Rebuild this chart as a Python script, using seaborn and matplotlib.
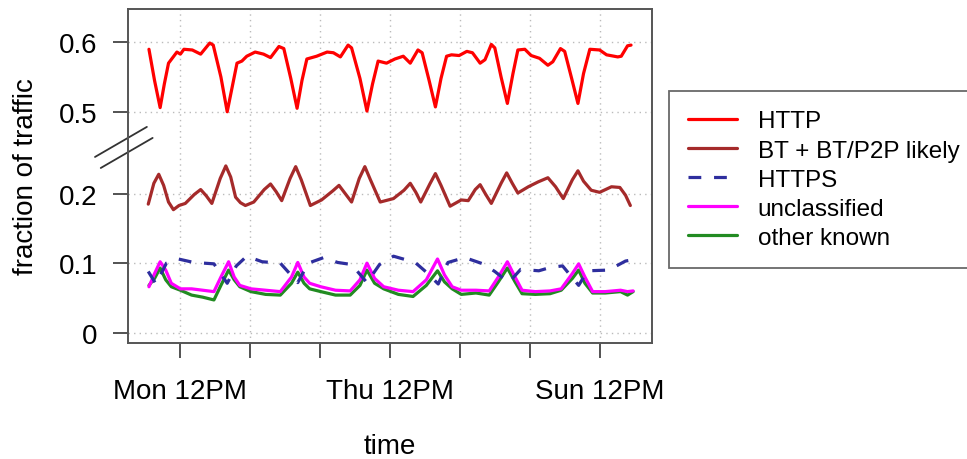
import numpy as np
import matplotlib
matplotlib.use("Agg")
import matplotlib.pyplot as plt
import seaborn as sns
from matplotlib.lines import Line2D

# time in days since Monday 00:00, values are fraction of traffic
http_t = [0.05, 0.13, 0.21, 0.27, 0.33, 0.45, 0.50, 0.55, 0.67, 0.79,
          0.92, 0.97, 1.08, 1.17, 1.24, 1.31, 1.38, 1.45, 1.57, 1.69,
          1.79, 1.91, 1.98, 2.08, 2.17, 2.24, 2.31, 2.45, 2.60, 2.69,
          2.79, 2.90, 2.95, 3.07, 3.17, 3.25, 3.33, 3.45, 3.57, 3.69,
          3.79, 3.90, 3.96, 4.06, 4.15, 4.23, 4.31, 4.38, 4.49, 4.60,
          4.68, 4.79, 4.86, 4.95, 5.00, 5.09, 5.18, 5.26, 5.33, 5.43,
          5.52, 5.64, 5.76, 5.83, 5.94, 6.00, 6.10, 6.19, 6.27, 6.36,
          6.50, 6.60, 6.76, 6.81, 6.90, 6.95]
http_v = [0.590, 0.545, 0.506, 0.540, 0.570, 0.586, 0.583, 0.590, 0.589, 0.583,
          0.599, 0.596, 0.550, 0.500, 0.535, 0.570, 0.573, 0.580, 0.586, 0.583,
          0.578, 0.594, 0.591, 0.548, 0.505, 0.545, 0.576, 0.580, 0.586, 0.585,
          0.579, 0.596, 0.592, 0.548, 0.501, 0.540, 0.573, 0.570, 0.576, 0.580,
          0.570, 0.589, 0.585, 0.545, 0.507, 0.548, 0.580, 0.582, 0.581, 0.587,
          0.585, 0.570, 0.575, 0.597, 0.592, 0.550, 0.512, 0.555, 0.589, 0.590,
          0.581, 0.577, 0.567, 0.572, 0.591, 0.587, 0.548, 0.512, 0.555, 0.590,
          0.589, 0.582, 0.579, 0.580, 0.595, 0.596]

bt_t = [0.04, 0.12, 0.19, 0.26, 0.33, 0.40, 0.48, 0.57, 0.70, 0.79,
        0.87, 0.95, 1.07, 1.15, 1.22, 1.29, 1.36, 1.43, 1.55, 1.70,
        1.79, 1.87, 1.95, 2.07, 2.15, 2.23, 2.36, 2.52, 2.68, 2.77,
        2.86, 2.95, 3.06, 3.14, 3.22, 3.36, 3.55, 3.70, 3.79, 3.87,
        3.94, 4.07, 4.15, 4.23, 4.36, 4.52, 4.62, 4.72, 4.79, 4.87,
        4.95, 5.09, 5.17, 5.25, 5.33, 5.48, 5.62, 5.76, 5.87, 5.98,
        6.11, 6.19, 6.27, 6.38, 6.50, 6.67, 6.79, 6.87, 6.94]
bt_v = [0.185, 0.215, 0.228, 0.212, 0.188, 0.177, 0.183, 0.186, 0.199, 0.206,
        0.197, 0.186, 0.222, 0.240, 0.224, 0.195, 0.187, 0.183, 0.188, 0.206,
        0.214, 0.203, 0.190, 0.222, 0.239, 0.220, 0.183, 0.191, 0.204, 0.212,
        0.200, 0.188, 0.222, 0.239, 0.220, 0.188, 0.193, 0.205, 0.215, 0.202,
        0.188, 0.214, 0.229, 0.212, 0.182, 0.191, 0.190, 0.206, 0.213, 0.199,
        0.186, 0.215, 0.230, 0.215, 0.201, 0.210, 0.217, 0.223, 0.210, 0.193,
        0.220, 0.233, 0.218, 0.205, 0.202, 0.210, 0.209, 0.198, 0.183]

https_t = [0.04, 0.15, 0.30, 0.47, 0.69, 0.98, 1.17, 1.30, 1.45, 1.67,
           1.93, 2.18, 2.33, 2.55, 2.75, 2.95, 3.17, 3.35, 3.55, 3.86,
           4.02, 4.19, 4.33, 4.57, 4.83, 5.00, 5.20, 5.37, 5.63, 5.80,
           5.97, 6.20, 6.33, 6.63, 6.87, 6.98]
https_v = [0.088, 0.070, 0.100, 0.106, 0.101, 0.099, 0.071, 0.096, 0.110, 0.102,
           0.100, 0.072, 0.100, 0.108, 0.101, 0.098, 0.072, 0.098, 0.110, 0.101,
           0.087, 0.070, 0.101, 0.108, 0.099, 0.088, 0.072, 0.091, 0.089, 0.094,
           0.096, 0.068, 0.089, 0.090, 0.103, 0.105]

uncl_t = [0.05, 0.13, 0.21, 0.29, 0.37, 0.50, 0.66, 0.82, 0.98, 1.08,
          1.19, 1.27, 1.35, 1.51, 1.72, 1.93, 2.09, 2.18, 2.27, 2.35,
          2.51, 2.72, 2.93, 3.07, 3.17, 3.28, 3.41, 3.62, 3.83, 4.02,
          4.18, 4.28, 4.39, 4.52, 4.73, 4.92, 5.05, 5.18, 5.29, 5.39,
          5.58, 5.79, 5.95, 6.11, 6.20, 6.29, 6.40, 6.58, 6.80, 6.90,
          6.98]
uncl_v = [0.066, 0.085, 0.102, 0.090, 0.071, 0.063, 0.063, 0.061, 0.059, 0.080,
          0.102, 0.080, 0.068, 0.063, 0.061, 0.059, 0.080, 0.101, 0.080, 0.071,
          0.066, 0.061, 0.060, 0.076, 0.100, 0.078, 0.066, 0.061, 0.059, 0.076,
          0.106, 0.083, 0.066, 0.061, 0.061, 0.060, 0.080, 0.102, 0.080, 0.061,
          0.059, 0.060, 0.063, 0.085, 0.099, 0.080, 0.059, 0.059, 0.061, 0.059,
          0.060]

other_t = uncl_t
other_v = [0.068, 0.078, 0.093, 0.076, 0.066, 0.061, 0.054, 0.051, 0.047, 0.068,
           0.090, 0.076, 0.066, 0.059, 0.055, 0.054, 0.071, 0.087, 0.071, 0.063,
           0.059, 0.054, 0.054, 0.068, 0.090, 0.071, 0.063, 0.055, 0.052, 0.068,
           0.089, 0.073, 0.063, 0.055, 0.057, 0.054, 0.073, 0.093, 0.073, 0.056,
           0.055, 0.056, 0.061, 0.078, 0.090, 0.071, 0.057, 0.057, 0.059, 0.054,
           0.059]

day_ticks = [0.5, 1.5, 2.5, 3.5, 4.5, 5.5, 6.5]
day_labels = ["Mon 12PM", "", "", "Thu 12PM", "", "", "Sun 12PM"]
y_ticks = [0, 0.1, 0.2, 0.5, 0.6]
y_labels = ["0", "0.1", "0.2", "0.5", "0.6"]

GAP = 0.182  # the empty band between 0.25 and 0.5 is cut out of the y axis


def squeeze(v):
    v = np.asarray(v, dtype=float)
    return np.where(v > 0.35, v - GAP, v)


sns.set_style("white")
plt.rcParams["font.family"] = ["Liberation Sans", "DejaVu Sans"]
plt.rcParams["text.color"] = "black"
plt.rcParams["axes.labelcolor"] = "black"
plt.rcParams["xtick.color"] = "black"
plt.rcParams["ytick.color"] = "black"
FS = 20
LFS = 17.5

fig = plt.figure(figsize=(9.67, 4.6), dpi=100)
ax = fig.add_axes([128 / 967, 1 - 344 / 460, 524 / 967, 334 / 460])

lw = 2.3
sns.lineplot(x=http_t, y=squeeze(http_v), color="#ff0000", lw=lw, ax=ax, label="HTTP")
sns.lineplot(x=bt_t, y=bt_v, color="#a52a2a", lw=lw, ax=ax, label="BT + BT/P2P likely")
sns.lineplot(x=other_t, y=other_v, color="#228b22", lw=lw, ax=ax, label="other known")
sns.lineplot(x=uncl_t, y=uncl_v, color="#ff00ff", lw=lw, ax=ax, label="unclassified")
sns.lineplot(x=https_t, y=https_v, color="#2e2e9e", lw=lw, ax=ax, label="HTTPS")
ax.lines[-1].set_dashes((4, 4))
for ln in ax.lines:
    ln.set_solid_joinstyle("round")

ax.set_xlim(-0.25, 7.25)
ax.set_ylim(-0.015, 0.466)
ax.set_xticks(day_ticks)
ax.set_xticklabels(day_labels)
ax.set_yticks(squeeze(y_ticks))
ax.set_yticklabels(y_labels)
ax.tick_params(axis="both", direction="out", length=11, width=1.3, color="#444444",
               labelsize=FS, labelcolor="black", left=True, bottom=True)
ax.tick_params(axis="x", pad=14)
ax.tick_params(axis="y", pad=11)

for x in day_ticks:
    ax.axvline(x, color="#bbbbbb", lw=1, ls=(0, (1, 3)), zorder=0)
for y in squeeze(y_ticks):
    ax.axhline(y, color="#bbbbbb", lw=1, ls=(0, (1, 3)), zorder=0)

for s in ax.spines.values():
    s.set_color("#555555")
    s.set_linewidth(1.4)

ax.set_xlabel("time", fontsize=FS)
ax.set_ylabel("fraction of traffic", fontsize=FS)
ax.xaxis.set_label_coords(0.5, -0.27)
ax.yaxis.set_label_coords(-0.17, 0.5)

# axis break marks
for dx, dy in [(0.0, 0.0), (0.011, -0.033)]:
    ax.add_line(Line2D([-0.063 + dx, 0.036 + dx], [0.557 + dy, 0.647 + dy],
                       transform=ax.transAxes, color="#333333", lw=1.3, clip_on=False))

handles, labels = ax.get_legend_handles_labels()
order = ["HTTP", "BT + BT/P2P likely", "HTTPS", "unclassified", "other known"]
hmap = dict(zip(labels, handles))
ax.legend([hmap[k] for k in order], order, loc="upper left",
          bbox_to_anchor=(669 / 967, 1 - 92 / 460), bbox_transform=fig.transFigure,
          fontsize=LFS, frameon=True, fancybox=False, edgecolor="#444444",
          handlelength=2.0, handletextpad=0.85, borderpad=0.8, labelspacing=0.29,
          borderaxespad=0)
ax.get_legend().get_frame().set_linewidth(1.3)

fig.savefig("out.png", dpi=100)
